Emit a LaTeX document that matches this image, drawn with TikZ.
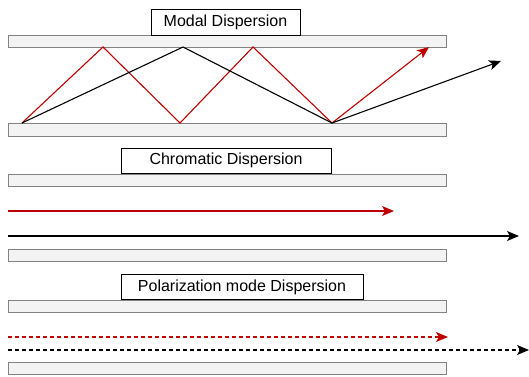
\documentclass[tikz,border=0pt]{standalone}
\usepackage{fontspec}
\setmainfont{Liberation Sans}
\usetikzlibrary{arrows.meta}
\definecolor{rayred}{RGB}{192,0,0}
\definecolor{barfill}{RGB}{243,243,243}
\definecolor{bardraw}{RGB}{130,130,130}
\begin{document}
\begin{tikzpicture}[
  x=1pt, y=-1pt,
  fibre/.style={draw=bardraw, fill=barfill, line width=1pt},
  title/.style={draw, fill=white, line width=1pt, inner sep=0pt,
    font=\fontsize{16}{19}\selectfont},
  ray/.style={line width=1.1pt, -{Stealth[length=12pt,width=10pt,inset=3pt]}},
  wave/.style={ray, dash pattern=on 4pt off 3pt}
]
\useasboundingbox (0,0) rectangle (529,376);
% modal dispersion
\draw[fibre] (8,35) rectangle (446,47);
\draw[fibre] (8,123) rectangle (446,136);
\node[title, minimum width=149pt, minimum height=26pt] (modal) at (225.5,22) {Modal Dispersion};
\coordinate (m0) at (22,123);
\coordinate (m1) at (103,47);
\coordinate (m2) at (180,123);
\coordinate (m3) at (253,47);
\coordinate (m4) at (332,123);
\coordinate (m5) at (429,47);
\coordinate (n1) at (183,47);
\coordinate (n2) at (501,61);
\draw[ray, rayred] (m0) -- (m1) -- (m2) -- (m3) -- (m4) -- (m5);
\draw[ray] (m0) -- (n1) -- (m4) -- (n2);
% chromatic dispersion
\draw[fibre] (8,174) rectangle (446,186);
\draw[fibre] (8,249) rectangle (446,261);
\node[title, minimum width=210pt, minimum height=25pt] (chroma) at (226,160.5) {Chromatic Dispersion};
\coordinate (c0) at (8,211);
\coordinate (c1) at (394,211);
\coordinate (d0) at (8,236);
\coordinate (d1) at (519,236);
\draw[ray, rayred] (c0) -- (c1);
\draw[ray] (d0) -- (d1);
% polarization mode dispersion
\draw[fibre] (8,300) rectangle (446,312);
\draw[fibre] (8,362) rectangle (446,374.5);
\node[title, minimum width=242pt, minimum height=25pt] (polar) at (242,287) {Polarization mode Dispersion};
\coordinate (p0) at (8,337);
\coordinate (p1) at (448,337);
\coordinate (q0) at (8,350);
\coordinate (q1) at (529,350);
\draw[wave, rayred] (p0) -- (p1);
\draw[wave] (q0) -- (q1);
\end{tikzpicture}
\end{document}
